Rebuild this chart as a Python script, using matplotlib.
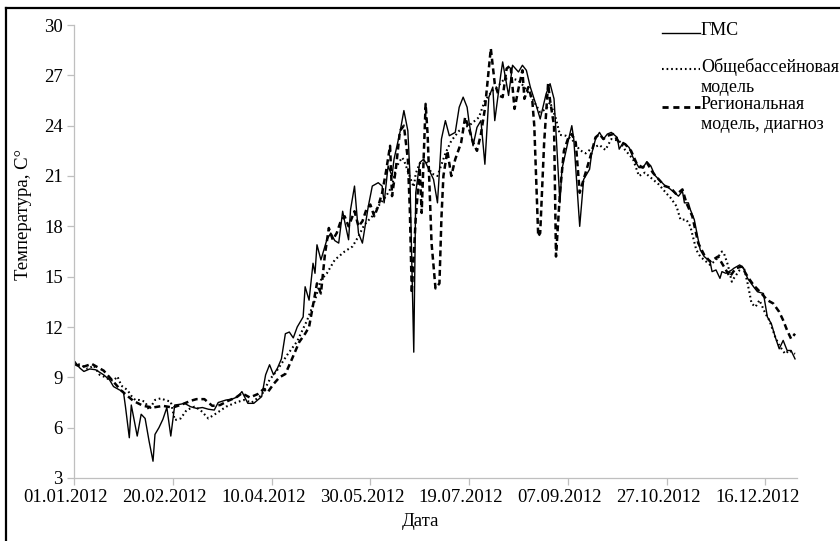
import matplotlib
matplotlib.use('Agg')
from matplotlib import pyplot as plt
from matplotlib.lines import Line2D
from matplotlib.transforms import ScaledTranslation

plt.rcParams['font.family'] = ['Liberation Serif', 'DejaVu Serif']

# station observations (day of year 2012 -> temperature)
gms_days = [0, 3, 5, 8, 11, 15, 18, 20, 23, 25, 26, 28, 29, 32, 34, 36, 38, 40, 41, 43,
            45, 47, 49, 51, 54, 56, 59, 62, 65, 68, 71, 73, 77, 80, 83, 85, 88, 91, 95, 97,
            99, 101, 103, 105, 107, 109, 111, 113, 116, 117, 119, 121, 122, 123, 125, 127, 128, 130, 132, 134,
            136, 137, 139, 140, 142, 144, 146, 149, 151, 154, 156, 157, 159, 161, 162, 165, 167, 169, 170, 172,
            173, 175, 177, 178, 182, 184, 186, 188, 190, 193, 195, 197, 199, 200, 202, 204, 206, 208, 210, 212,
            213, 216, 217, 220, 222, 225, 227, 229, 231, 234, 236, 239, 241, 243, 244, 246, 247, 250, 252, 253,
            256, 258, 261, 262, 264, 266, 268, 270, 272, 275, 276, 278, 281, 283, 286, 288, 290, 292, 294, 296,
            299, 301, 304, 306, 308, 309, 311, 312, 314, 316, 317, 319, 322, 323, 325, 327, 328, 330, 333, 334,
            337, 339, 341, 344, 346, 349, 351, 353, 355, 357, 359, 361, 363, 365]
gms_vals = [10.0, 9.55, 9.35, 9.5, 9.45, 9.15, 8.85, 8.45, 8.25, 8.15, 7.3, 5.4, 7.35, 5.5, 6.8, 6.55, 5.2, 4.0, 5.6, 6.0,
            6.5, 7.2, 5.5, 7.35, 7.4, 7.45, 7.25, 7.15, 7.2, 7.1, 7.05, 7.5, 7.65, 7.7, 7.85, 8.15, 7.45, 7.45, 7.85, 9.15,
            9.75, 9.15, 9.55, 10.1, 11.6, 11.7, 11.35, 12.0, 12.6, 14.4, 13.6, 15.8, 15.2, 16.9, 16.0, 16.8, 17.2, 17.6, 17.15, 17.0,
            18.9, 18.3, 17.2, 19.0, 20.4, 17.6, 17.0, 19.2, 20.4, 20.6, 20.4, 19.4, 21.6, 21.0, 22.0, 23.6, 24.9, 23.7, 21.2, 10.5,
            20.0, 21.8, 22.0, 21.8, 20.8, 19.4, 23.2, 24.3, 23.4, 23.6, 25.1, 25.7, 25.1, 24.2, 22.8, 23.9, 24.3, 21.7, 25.7, 26.3,
            24.3, 27.0, 27.8, 25.8, 27.6, 27.2, 27.6, 27.3, 26.3, 25.2, 24.4, 25.9, 26.5, 25.6, 23.6, 19.4, 21.4, 23.0, 24.0, 23.2,
            18.0, 20.8, 21.4, 22.3, 23.2, 23.6, 23.2, 23.5, 23.6, 23.3, 22.6, 23.0, 22.7, 22.1, 21.5, 21.5, 21.85, 21.6, 21.05, 20.8,
            20.45, 20.3, 20.0, 19.8, 20.1, 19.4, 19.4, 19.0, 18.4, 17.2, 16.6, 16.2, 15.9, 15.3, 15.4, 14.9, 15.3, 15.2, 15.4, 15.5,
            15.7, 15.5, 14.9, 14.4, 14.1, 14.0, 12.6, 12.2, 11.4, 10.7, 11.2, 10.6, 10.6, 10.1]

# basin-wide model
basin_days = [0, 4, 7, 10, 13, 16, 18, 20, 22, 24, 27, 29, 31, 33, 36, 38, 41, 44, 46, 49,
              51, 54, 57, 61, 64, 68, 72, 77, 82, 86, 90, 95, 99, 103, 108, 113, 118, 122, 125, 128,
              132, 137, 141, 144, 147, 151, 154, 158, 161, 163, 166, 167, 170, 172, 173, 175, 178, 181, 184, 188,
              191, 195, 198, 201, 205, 208, 212, 215, 218, 222, 225, 228, 231, 234, 236, 239, 241, 244, 246, 249,
              252, 256, 259, 262, 266, 269, 272, 276, 279, 283, 286, 289, 293, 296, 300, 302, 305, 307, 310, 312,
              315, 317, 319, 322, 325, 328, 329, 331, 333, 334, 337, 339, 341, 343, 345, 347, 350, 352, 355, 357,
              360, 362, 365]
basin_vals = [9.9, 9.7, 9.5, 9.7, 9.15, 9.0, 8.85, 8.8, 9.05, 8.5, 8.25, 7.9, 7.65, 7.65, 7.55, 7.05, 7.65, 7.75, 7.65, 7.55,
              6.45, 6.55, 7.05, 7.25, 7.05, 6.55, 6.85, 7.25, 7.5, 7.65, 7.5, 7.95, 8.85, 9.45, 10.35, 11.15, 12.4, 13.6, 14.8, 15.2,
              16.0, 16.5, 16.8, 17.4, 18.1, 18.6, 19.2, 19.8, 20.4, 21.5, 22.1, 21.95, 20.95, 20.35, 21.15, 21.75, 21.95, 21.15, 21.0, 22.35,
              23.1, 23.7, 23.9, 24.1, 24.5, 25.5, 26.1, 26.4, 26.8, 26.8, 26.7, 26.3, 25.8, 25.2, 24.8, 25.0, 25.4, 24.4, 23.45, 23.4,
              23.2, 22.55, 22.35, 22.65, 22.85, 22.55, 23.2, 23.1, 22.55, 22.0, 21.0, 21.2, 20.8, 20.5, 19.95, 19.7, 19.2, 18.4, 18.4, 18.0,
              16.6, 16.2, 16.0, 15.7, 16.0, 16.5, 16.4, 15.7, 14.7, 14.9, 15.4, 15.6, 14.6, 13.4, 13.2, 13.6, 12.8, 12.4, 11.4, 10.9,
              10.4, 10.6, 10.4]

# regional model, diagnosis
reg_days = [0, 4, 9, 12, 15, 18, 21, 24, 27, 30, 35, 40, 45, 50, 55, 59, 62, 66, 70, 74,
            78, 82, 85, 89, 93, 96, 98, 101, 104, 107, 110, 114, 117, 119, 121, 123, 125, 127, 129, 131,
            133, 135, 137, 139, 142, 144, 146, 148, 150, 152, 154, 156, 158, 160, 161, 163, 165, 167, 169, 170,
            171, 173, 175, 176, 178, 179, 181, 183, 185, 186, 187, 189, 191, 193, 196, 198, 200, 202, 204, 206,
            208, 211, 213, 215, 217, 219, 221, 223, 225, 227, 228, 230, 232, 233, 235, 236, 238, 240, 241, 243,
            244, 246, 248, 250, 252, 254, 256, 258, 260, 262, 264, 266, 268, 270, 273, 276, 279, 282, 285, 288,
            290, 293, 296, 299, 302, 305, 308, 310, 313, 316, 319, 322, 326, 329, 332, 335, 338, 341, 344, 348,
            351, 354, 357, 359, 361, 363, 365]
reg_vals = [9.8, 9.6, 9.8, 9.6, 9.4, 9.0, 8.6, 8.2, 7.9, 7.6, 7.3, 7.2, 7.3, 7.2, 7.4, 7.6, 7.7, 7.7, 7.3, 7.35,
            7.6, 7.8, 8.05, 7.8, 8.0, 8.3, 8.1, 8.6, 9.0, 9.2, 10.0, 11.1, 11.6, 12.0, 13.3, 14.6, 14.0, 16.3, 17.9, 17.2,
            17.6, 18.3, 18.6, 18.0, 18.9, 18.0, 18.3, 19.0, 19.3, 18.6, 19.2, 20.0, 21.3, 22.8, 19.8, 21.5, 23.7, 24.0, 22.0, 19.0,
            14.0, 18.5, 21.5, 18.8, 25.3, 23.5, 17.0, 14.3, 14.6, 18.5, 21.0, 22.5, 21.0, 22.0, 23.0, 24.5, 23.8, 23.0, 22.5, 23.5,
            25.0, 28.6, 26.5, 25.8, 25.7, 27.4, 27.6, 25.0, 26.2, 27.3, 25.6, 26.3, 25.5, 24.0, 17.4, 17.6, 23.0, 26.5, 25.5, 24.0,
            16.2, 20.0, 22.5, 23.2, 23.5, 23.0, 20.0, 20.8, 21.6, 22.4, 23.3, 23.5, 23.2, 23.4, 23.5, 23.0, 22.9, 22.5, 21.7, 21.5,
            21.8, 21.2, 20.8, 20.4, 20.3, 19.9, 20.2, 19.4, 18.6, 17.0, 16.3, 15.9, 16.2, 15.6, 15.0, 15.5, 15.6, 15.0, 14.5, 14.0,
            13.6, 13.4, 12.9, 12.4, 11.8, 11.3, 11.6]

tick_days = [0, 50, 100, 150, 200, 250, 300, 350]
tick_labels = ['01.01.2012', '20.02.2012', '10.04.2012', '30.05.2012',
               '19.07.2012', '07.09.2012', '27.10.2012', '16.12.2012']
y_ticks = [3, 6, 9, 12, 15, 18, 21, 24, 27, 30]

legend_labels = ['ГМС', 'Общебассейновая\nмодель', 'Региональная\nмодель, диагноз']

W, H = 840, 541
fig = plt.figure(figsize=(W / 100, H / 100), dpi=100)
ax = fig.add_axes([74 / W, 1 - 478 / H, (797 - 74) / W, (478 - 25) / H])

dash_style = dict(color='black', lw=1.8, dashes=(2.4, 1.5))
dot_style = dict(color='black', lw=1.5, dashes=(0.8, 1.4))
solid_style = dict(color='black', lw=1.0)

ax.plot(reg_days, reg_vals, **dash_style)
ax.plot(basin_days, basin_vals, **dot_style)
ax.plot(gms_days, gms_vals, **solid_style)

ax.set_xlim(0, 366)
ax.set_ylim(3, 30)
ax.set_xticks(tick_days)
ax.set_xticklabels(tick_labels)
ax.set_yticks(y_ticks)

axis_grey = '#bfbfbf'
for side in ['top', 'right']:
    ax.spines[side].set_visible(False)
for side in ['left', 'bottom']:
    ax.spines[side].set_color(axis_grey)
    ax.spines[side].set_linewidth(0.9)
ax.tick_params(direction='out', length=5, width=0.9, color=axis_grey,
               labelsize=13.5, pad=3)

# date labels sit a little left of their ticks
shift = ScaledTranslation(-8 / 100, 0, fig.dpi_scale_trans)
for lbl in ax.get_xticklabels():
    lbl.set_transform(lbl.get_transform() + shift)

fig.text(24 / W, 1 - 214 / H, 'Температура, С°', rotation=90,
         ha='center', va='center', fontsize=13.5)
fig.text(420 / W, 1 - 522 / H, 'Дата', ha='center', va='center', fontsize=13.5)

# legend drawn by hand so the keys sit beside the first line of each label
key_rows = [33, 69, 107]
key_styles = [solid_style, dot_style, dict(color='black', lw=2.0, dashes=(2.2, 1.7))]
for y, style, label in zip(key_rows, key_styles, legend_labels):
    fig.add_artist(Line2D([662 / W, 700 / W], [1 - y / H, 1 - y / H],
                          transform=fig.transFigure, **style))
    fig.text(701 / W, 1 - (y - 11) / H, label, ha='left', va='top',
             fontsize=13, linespacing=1.2)

# outer frame (top and left edges)
fig.add_artist(Line2D([6 / W, 1], [1 - 8 / H, 1 - 8 / H], transform=fig.transFigure,
                      color='black', lw=1.6))
fig.add_artist(Line2D([6 / W, 6 / W], [0, 1 - 8 / H], transform=fig.transFigure,
                      color='black', lw=1.6))

plt.savefig('out.png', dpi=100)
